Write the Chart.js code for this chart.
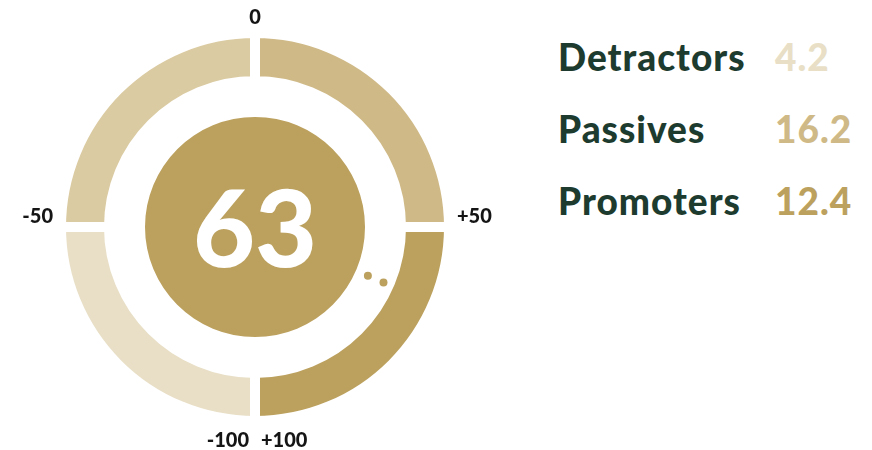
<!DOCTYPE html>
<html>
<head>
<meta charset="utf-8">
<script src="https://cdn.jsdelivr.net/npm/chart.js@4"></script>
<style>
  body { margin: 0; background: #fff; font-family: Lato, sans-serif; }
  #wrap { position: relative; width: 872px; height: 450px; }
  #gauge { position: absolute; left: 0; top: 0; width: 510px; height: 450px; }
  #legend { position: absolute; left: 558px; top: 0; }
  .row { position: absolute; white-space: nowrap; font-weight: 900; font-size: 37px; line-height: 37px; letter-spacing: 1px; }
  .row .name { color: #1d3b2e; }
  .row .val { position: absolute; left: 217px; }
</style>
</head>
<body>
<div id="wrap">
  <div id="gauge"><canvas id="nps-chart"></canvas></div>
  <div id="legend"></div>
</div>
<script>
// data
const segments = ["0 to +50", "+50 to +100", "-100 to -50", "-50 to 0"];
const segmentSpan = [50, 50, 50, 50];
const segmentColors = ["#cfb986", "#bca15e", "#e8dfc6", "#dbcba2"];
const tickLabels = ["0", "+50", "+100", "-100", "-50"];
const tickValues = [0, 50, 100, -100, -50];
const score = 63;
const groups = ["Detractors", "Passives", "Promoters"];
const groupValues = [4.2, 16.2, 12.4];
const groupColors = ["#e8dfc6", "#cfb986", "#bca15e"];

// legend
const legend = document.getElementById("legend");
groups.forEach((g, i) => {
  const row = document.createElement("div");
  row.className = "row";
  row.style.top = (38 + i * 72) + "px";
  row.innerHTML = '<span class="name">' + g + '</span><span class="val" style="color:' +
    groupColors[i] + '">' + groupValues[i] + '</span>';
  legend.appendChild(row);
});

const gold = "#bca15e";

const gaugeDecor = {
  id: "gaugeDecor",
  afterDatasetsDraw(chart) {
    const ctx = chart.ctx;
    const ring = chart.getDatasetMeta(0).data[0];
    const core = chart.getDatasetMeta(2).data[0];
    const cx = ring.x, cy = ring.y;
    const R = ring.outerRadius - 5;
    const r = core.outerRadius;
    ctx.save();

    // ticks
    ctx.fillStyle = "#151515";
    ctx.font = "900 20px Lato";
    ctx.textBaseline = "alphabetic";
    tickLabels.forEach((t, i) => {
      const v = tickValues[i];
      if (v === 0) {
        ctx.textAlign = "center";
        ctx.fillText(t, cx, cy - R - 14);
      } else if (Math.abs(v) === 50) {
        ctx.textAlign = v > 0 ? "left" : "right";
        ctx.fillText(t, cx + Math.sign(v) * (R + 13), cy - 4);
      } else {
        ctx.textAlign = v > 0 ? "left" : "right";
        ctx.fillText(t, cx + Math.sign(v) * 6, cy + R + 31);
      }
    });

    // score text
    ctx.fillStyle = "#ffffff";
    ctx.font = "900 107px Lato";
    ctx.textAlign = "center";
    ctx.textBaseline = "alphabetic";
    const m = ctx.measureText(String(score));
    ctx.fillText(String(score), cx, cy + m.actualBoundingBoxAscent / 2);

    // pointer dots
    const a = -Math.PI / 2 + (score / 100) * Math.PI;
    ctx.fillStyle = gold;
    [r + 13, r + 30].forEach((d) => {
      ctx.beginPath();
      ctx.arc(cx + Math.cos(a) * d, cy + Math.sin(a) * d, 4, 0, Math.PI * 2);
      ctx.fill();
    });
    ctx.restore();
  },
};

new Chart(document.getElementById("nps-chart"), {
  type: "doughnut",
  data: {
    labels: segments,
    datasets: [
      {
        data: segmentSpan,
        backgroundColor: segmentColors,
        borderColor: "#ffffff",
        borderWidth: 10,
        borderJoinStyle: "miter",
        weight: 48,
      },
      { data: [1], backgroundColor: "rgba(0,0,0,0)", borderWidth: 0, weight: 36 },
      { data: [1], backgroundColor: gold, borderWidth: 0, weight: 110 },
    ],
  },
  options: {
    responsive: true,
    maintainAspectRatio: false,
    animation: false,
    cutout: 0,
    rotation: 0,
    layout: { padding: { left: 56, right: 56, top: 28, bottom: 24 } },
    events: [],
    plugins: { legend: { display: false }, tooltip: { enabled: false } },
  },
  plugins: [gaugeDecor],
});
</script>
</body>
</html>
